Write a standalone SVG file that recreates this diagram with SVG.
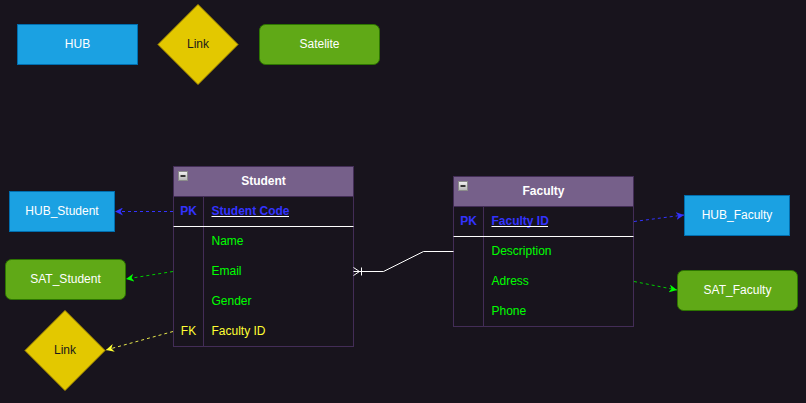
<svg xmlns="http://www.w3.org/2000/svg" width="806" height="403" viewBox="0 0 806 403">
<defs>
<style>
text{font-family:"Liberation Sans",Arial,sans-serif;font-size:12px}
.hub{fill:#1BA1E2;stroke:#006EAF}
.sat{fill:#60A917;stroke:#2D7600}
.lnk{fill:#E3C800;stroke:#B09500}
.wt{fill:#FFFFFF;text-anchor:middle}
.bt{fill:#1A1A1A;text-anchor:middle}
.tbl{fill:#18141D;stroke:#432D57}
.hdr{fill:#76608A;stroke:#432D57}
.ht{fill:#FFFFFF;font-weight:bold;text-anchor:middle}
.pkb{fill:#3333FF;font-weight:bold}
.gr{fill:#00FF00}
.yl{fill:#FFFF33}
.dash{fill:none;stroke-width:1;stroke-dasharray:3 3}
</style>
<linearGradient id="g" x1="0" y1="0" x2="0" y2="1"><stop offset="0" stop-color="#F2F2F2"/><stop offset="1" stop-color="#B5B5B5"/></linearGradient>
<marker id="ab" viewBox="0 0 10 10" refX="10" refY="5" markerWidth="8" markerHeight="8" markerUnits="userSpaceOnUse" orient="auto"><path d="M0,0 L10,5 L0,10 L3,5 Z" fill="#3333FF"/></marker>
<marker id="ag" viewBox="0 0 10 10" refX="10" refY="5" markerWidth="8" markerHeight="8" markerUnits="userSpaceOnUse" orient="auto"><path d="M0,0 L10,5 L0,10 L3,5 Z" fill="#00FF00"/></marker>
<marker id="ay" viewBox="0 0 10 10" refX="10" refY="5" markerWidth="8" markerHeight="8" markerUnits="userSpaceOnUse" orient="auto"><path d="M0,0 L10,5 L0,10 L3,5 Z" fill="#FFFF33"/></marker>
</defs>
<rect x="0" y="0" width="806" height="403" fill="#18141D"/>

<g id="legend-hub"><rect class="hub" x="17.5" y="24.5" width="120" height="40"/><text class="wt" x="77.5" y="48">HUB</text></g>
<g id="legend-link"><polygon class="lnk" points="198,4.5 238,44.5 198,84.5 158,44.5"/><text class="bt" x="198" y="48">Link</text></g>
<g id="legend-satelite"><rect class="sat" x="259.5" y="24.5" width="120" height="40" rx="6"/><text class="wt" x="319.5" y="48">Satelite</text></g>

<g id="student">
<rect class="hdr" x="173.5" y="166.5" width="180" height="30"/>
<rect class="tbl" x="173.5" y="196.5" width="180" height="150"/>
<line x1="203.5" y1="196.5" x2="203.5" y2="346.5" stroke="#432D57"/>
<line x1="173.5" y1="226.5" x2="353.5" y2="226.5" stroke="#FFFFFF"/>
<rect x="178.5" y="171.5" width="9" height="9" fill="url(#g)" stroke="#8C8C8C"/>
<line x1="180.5" y1="176" x2="185.5" y2="176" stroke="#000" stroke-width="1.5"/>
<text class="ht" x="263.5" y="184.5">Student</text>
<text class="pkb" x="188.5" y="214.5" text-anchor="middle">PK</text>
<text class="pkb" x="211.5" y="214.5">Student Code</text>
<line x1="211.5" y1="216.5" x2="289" y2="216.5" stroke="#FFFFFF"/>
<text class="gr" x="211.5" y="244.5">Name</text>
<text class="gr" x="211.5" y="274.5">Email</text>
<text class="gr" x="211.5" y="304.5">Gender</text>
<text class="yl" x="188.5" y="334.5" text-anchor="middle">FK</text>
<text class="yl" x="211.5" y="334.5">Faculty ID</text>
</g>

<g id="faculty">
<rect class="hdr" x="453.5" y="176.5" width="180" height="30"/>
<rect class="tbl" x="453.5" y="206.5" width="180" height="120"/>
<line x1="483.5" y1="206.5" x2="483.5" y2="326.5" stroke="#432D57"/>
<line x1="453.5" y1="236.5" x2="633.5" y2="236.5" stroke="#FFFFFF"/>
<rect x="458.5" y="181.5" width="9" height="9" fill="url(#g)" stroke="#8C8C8C"/>
<line x1="460.5" y1="186" x2="465.5" y2="186" stroke="#000" stroke-width="1.5"/>
<text class="ht" x="543.5" y="194.5">Faculty</text>
<text class="pkb" x="468.5" y="224.5" text-anchor="middle">PK</text>
<text class="pkb" x="491.5" y="224.5">Faculty ID</text>
<line x1="491.5" y1="226.5" x2="548" y2="226.5" stroke="#FFFFFF"/>
<text class="gr" x="491.5" y="254.5">Description</text>
<text class="gr" x="491.5" y="284.5">Adress</text>
<text class="gr" x="491.5" y="314.5">Phone</text>
</g>

<g id="hub-student"><rect class="hub" x="9.5" y="191.5" width="105" height="40"/><text class="wt" x="62" y="215">HUB_Student</text></g>
<g id="sat-student"><rect class="sat" x="5.5" y="259.5" width="120" height="40" rx="6"/><text class="wt" x="65.5" y="283">SAT_Student</text></g>
<g id="link-student"><polygon class="lnk" points="65,310.5 105,350.5 65,390.5 25,350.5"/><text class="bt" x="65" y="354">Link</text></g>
<g id="hub-faculty"><rect class="hub" x="684.5" y="195.5" width="105" height="40"/><text class="wt" x="737" y="219">HUB_Faculty</text></g>
<g id="sat-faculty"><rect class="sat" x="677.5" y="270.5" width="120" height="40" rx="6"/><text class="wt" x="737.5" y="294">SAT_Faculty</text></g>

<g id="connectors">
<path class="dash" d="M173,211.5 L115,211.5" stroke="#3333FF" marker-end="url(#ab)"/>
<path class="dash" d="M173,271.5 L126,279" stroke="#00CC00" marker-end="url(#ag)"/>
<path class="dash" d="M173,331.5 L106,350" stroke="#E6E64C" marker-end="url(#ay)"/>
<path class="dash" d="M634,221.5 L684,215" stroke="#3333FF" marker-end="url(#ab)"/>
<path class="dash" d="M634,281.5 L677,290" stroke="#00CC00" marker-end="url(#ag)"/>
<path d="M353.5,271.5 L383.5,271.5 L423.5,251.5 L453.5,251.5" fill="none" stroke="#FFFFFF"/>
<path d="M353.5,267.5 L359.5,271.5 L353.5,275.5 M361.5,267.5 L361.5,275.5" fill="none" stroke="#FFFFFF"/>
</g>
</svg>
